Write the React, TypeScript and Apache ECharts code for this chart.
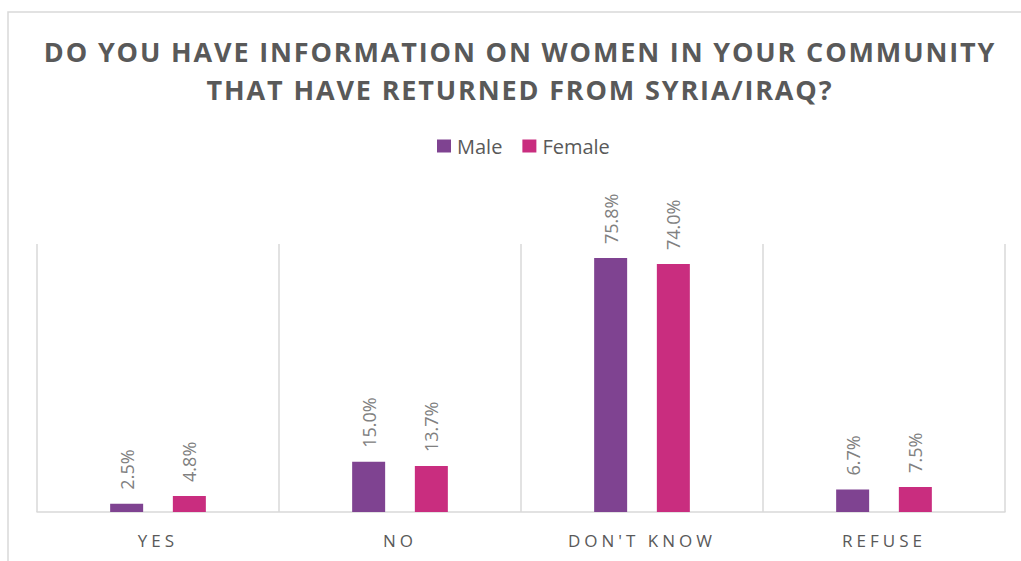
import React, { useEffect, useRef } from "react";
import * as echarts from "echarts";

const categories = ["YES", "NO", "DON'T KNOW", "REFUSE"];
const maleValues = [2.5, 15.0, 75.8, 6.7];
const femaleValues = [4.8, 13.7, 74.0, 7.5];
const seriesNames = ["Male", "Female"];
const titleText = "DO YOU HAVE INFORMATION ON WOMEN IN YOUR COMMUNITY\nTHAT HAVE RETURNED FROM SYRIA/IRAQ?";

const MALE_COLOR = "#7f4391";
const FEMALE_COLOR = "#c92d7f";
const FONT = "'Open Sans', 'Noto Sans', sans-serif";

const css = `
.chartbox text[style*="27px"] { letter-spacing: 1.85px; }
.chartbox text[style*="17px"] { letter-spacing: 4px; }
`;

export default function App() {
  const ref = useRef<HTMLDivElement>(null);
  useEffect(() => {
    if (!ref.current) return;
    const chart = echarts.init(ref.current, undefined, { renderer: "svg" });
    const label = {
      show: true,
      position: "top",
      rotate: 90,
      align: "left",
      verticalAlign: "middle",
      distance: 14,
      color: "#808080",
      fontSize: 18,
      fontFamily: FONT,
      formatter: (p: any) => p.value.toFixed(1) + "%",
    };
    chart.setOption({
      animation: false,
      backgroundColor: "#ffffff",
      textStyle: { fontFamily: FONT },
      legend: {
        top: 131,
        left: 432,
        itemWidth: 14,
        itemHeight: 13,
        itemGap: 20,
        icon: "rect",
        textStyle: { fontFamily: FONT, fontSize: 20, lineHeight: 20, color: "#595959", padding: [0, 0, 0, 1] },
        data: seriesNames,
      },
      graphic: [
        {
          type: "rect",
          shape: { x: 8, y: 12, width: 1100, height: 700 },
          style: { fill: "none", stroke: "#d9d9d9", lineWidth: 1.5 },
          silent: true,
          z: -1,
        },
        {
          type: "text",
          x: 520,
          y: 32,
          silent: true,
          style: {
            text: titleText,
            align: "center",
            verticalAlign: "top",
            fontFamily: FONT,
            fontWeight: "bold",
            fontSize: 27,
            lineHeight: 38,
            fill: "#595959",
          },
        },
      ],
      grid: { left: 37, right: 16, top: 244, bottom: 49, containLabel: false },
      xAxis: {
        type: "category",
        data: categories,
        axisLine: { show: true, lineStyle: { color: "#d9d9d9", width: 1.5 } },
        axisTick: { show: false },
        splitLine: { show: true, lineStyle: { color: "#d9d9d9", width: 1.5 } },
        axisLabel: { color: "#595959", fontSize: 17, fontFamily: FONT, margin: 20 },
      },
      yAxis: {
        type: "value",
        min: 0,
        max: 80,
        show: false,
        splitLine: { show: false },
      },
      series: [
        {
          name: seriesNames[0],
          type: "bar",
          data: maleValues,
          barWidth: 33,
          barGap: "90%",
          itemStyle: { color: MALE_COLOR },
          label,
        },
        {
          name: seriesNames[1],
          type: "bar",
          data: femaleValues,
          barWidth: 33,
          barGap: "90%",
          itemStyle: { color: FEMALE_COLOR },
          label,
        },
      ],
    });
    return () => chart.dispose();
  }, []);
  return (
    <>
      <style>{css}</style>
      <div
        ref={ref}
        className="chartbox"
        style={{ position: "absolute", left: 0, top: 0, width: 1021, height: 561 }}
      />
    </>
  );
}
